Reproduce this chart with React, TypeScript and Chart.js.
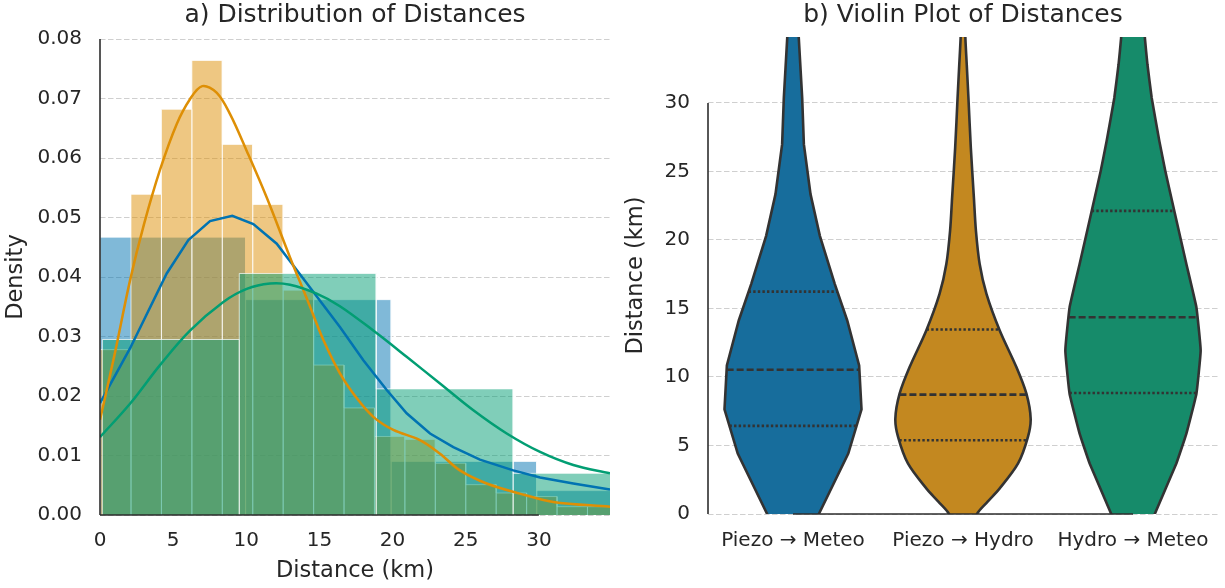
import React, { useEffect, useRef } from 'react';
import { Chart, registerables } from 'chart.js';

Chart.register(...registerables);

const FONT_FAMILY = "'DejaVu Sans', 'Liberation Sans', Arial, sans-serif";
const TEXT_COLOR = '#262626';
const GRID_COLOR = '#cfcfcf';
const SPINE_COLOR = '#2e2e2e';
const OUTLINE_COLOR = '#333333';

// ---- shared categories / colours ----
const categories = ['Piezo → Meteo', 'Piezo → Hydro', 'Hydro → Meteo'];
const lineColors = ['#0173b2', '#de8f05', '#029e73'];
const histFills = ['rgba(1,115,178,0.5)', 'rgba(222,143,5,0.5)', 'rgba(2,158,115,0.5)'];
const violinFills = ['#176d9c', '#c38820', '#168b6a'];

// ---- panel a: axes ----
const distanceTicks = [0, 5, 10, 15, 20, 25, 30];
const densityTicks = [0, 0.01, 0.02, 0.03, 0.04, 0.05, 0.06, 0.07, 0.08];
const distanceMax = 34.86;
const densityMax = 0.08;

// ---- panel a: histograms (bin edges in km, density) ----
const pmEdges = [0, 9.95, 19.9, 29.85, 39.8];
const pmDensity = [0.0467, 0.0362, 0.009, 0.0041];

const phEdges = [0.04, 2.12, 4.2, 6.28, 8.36, 10.44, 12.52, 14.6, 16.68, 18.76, 20.84, 22.92, 25.0, 27.08, 29.16, 31.24, 33.32, 35.4];
const phDensity = [0.0278, 0.0539, 0.0682, 0.0764, 0.0623, 0.0522, 0.0378, 0.0252, 0.018, 0.0132, 0.0127, 0.0087, 0.0051, 0.0037, 0.0031, 0.0014, 0.0014];

const hmEdges = [0.16, 9.52, 18.88, 28.24, 37.6];
const hmDensity = [0.0295, 0.0406, 0.0212, 0.007];

// ---- panel a: KDE curves ----
const pmKdeX = [0, 2.05, 4.56, 6.04, 7.52, 9.04, 10.48, 12.08, 13.9, 16.4, 18.0, 19.6, 20.96, 22.56, 24.15, 25.97, 28.25, 30.08, 32.35, 34.86];
const pmKdeY = [0.0188, 0.028, 0.0406, 0.0462, 0.0494, 0.0503, 0.0489, 0.0456, 0.0397, 0.0316, 0.026, 0.021, 0.0171, 0.0137, 0.0114, 0.0093, 0.0075, 0.0063, 0.0053, 0.0043];

const phKdeX = [0, 1.0, 2.05, 3.0, 4.1, 5.24, 6.15, 6.99, 7.97, 8.89, 10.03, 11.39, 12.99, 14.2, 15.27, 16.4, 17.5, 18.68, 20.05, 21.87, 23.24, 24.6, 26.43, 28.7, 30.98, 34.86];
const phKdeY = [0.016, 0.027, 0.0394, 0.0488, 0.058, 0.0657, 0.0699, 0.0721, 0.071, 0.0674, 0.0612, 0.0534, 0.0433, 0.036, 0.0294, 0.0238, 0.0198, 0.0165, 0.0143, 0.0126, 0.0103, 0.0075, 0.0053, 0.0036, 0.0022, 0.0014];

const hmKdeX = [0, 2.05, 4.1, 6.15, 8.43, 10.03, 11.62, 12.99, 14.81, 16.4, 18.68, 20.96, 23.24, 25.52, 27.8, 30.08, 32.35, 34.86];
const hmKdeY = [0.0131, 0.0187, 0.0252, 0.031, 0.0358, 0.038, 0.0389, 0.0387, 0.0372, 0.0351, 0.031, 0.0266, 0.0221, 0.0176, 0.0137, 0.0106, 0.0084, 0.007];

// ---- panel b: axes ----
const violinTicks = [0, 5, 10, 15, 20, 25, 30];
const violinMax = 34.8;
const categoryTicks = [0, 1, 2];

// ---- panel b: violin profiles (distance, half width in category units) ----
const pmViolinY = [-1.5, 0, 4.41, 7.64, 10.84, 14.12, 16.78, 20.3, 23.34, 26.97, 30.36, 34.73, 37.5];
const pmViolinHalf = [0.093, 0.152, 0.325, 0.403, 0.389, 0.319, 0.246, 0.158, 0.103, 0.064, 0.054, 0.034, 0.025];

const phViolinY = [-1.5, 0, 0.9, 1.87, 3.69, 5.63, 6.96, 8.78, 10.72, 13.39, 16.06, 18.24, 20.67, 23.09, 26.73, 30.36, 32.8, 34.73, 37.5];
const phViolinHalf = [0.04, 0.082, 0.145, 0.216, 0.324, 0.382, 0.398, 0.373, 0.314, 0.216, 0.138, 0.098, 0.076, 0.064, 0.046, 0.032, 0.022, 0.014, 0.008];

const hmViolinY = [-1.5, 0, 3.69, 5.87, 8.78, 11.93, 15.08, 18.24, 22.0, 25.03, 27.21, 30.36, 32.8, 34.73, 37.5];
const hmViolinHalf = [0.09, 0.128, 0.255, 0.314, 0.373, 0.398, 0.373, 0.314, 0.245, 0.19, 0.155, 0.11, 0.085, 0.07, 0.06];

// quartiles: q1, median, q3
const pmQuartiles = [6.43, 10.53, 16.23];
const phQuartiles = [5.38, 8.71, 13.46];
const hmQuartiles = [8.83, 14.36, 22.12];

// ---------- helpers ----------
type Pt = { x: number; y: number };

function histOutline(edges: number[], heights: number[]): Pt[] {
  const pts: Pt[] = [];
  heights.forEach((h, i) => {
    pts.push({ x: edges[i], y: 0 }, { x: edges[i], y: h }, { x: edges[i + 1], y: h });
  });
  pts.push({ x: edges[edges.length - 1], y: 0 });
  return pts;
}

function zipPts(xs: number[], ys: number[]): Pt[] {
  return xs.map((x, i) => ({ x, y: ys[i] }));
}

function violinOutline(center: number, ys: number[], halfs: number[]): Pt[] {
  const left = ys.map((y, i) => ({ x: center - halfs[i], y }));
  const right = ys.map((y, i) => ({ x: center + halfs[i], y })).reverse();
  return [...left, ...right, left[0]];
}

function halfAt(ys: number[], halfs: number[], y: number): number {
  for (let i = 1; i < ys.length; i++) {
    if (y <= ys[i]) {
      const t = (y - ys[i - 1]) / (ys[i] - ys[i - 1]);
      return halfs[i - 1] + t * (halfs[i] - halfs[i - 1]);
    }
  }
  return halfs[halfs.length - 1];
}

const fixedTicks = (values: number[]) => (axis: any) => {
  axis.ticks = values.map((value) => ({ value }));
};

function spinesPlugin(spec: { xFrom: number; xTo: number; yFrom: number; yTo: number }) {
  return {
    id: 'trimmedSpines',
    afterDatasetsDraw(chart: any) {
      const { ctx, chartArea, scales } = chart;
      ctx.save();
      ctx.strokeStyle = SPINE_COLOR;
      ctx.lineWidth = 1.6;
      ctx.beginPath();
      ctx.moveTo(chartArea.left, scales.y.getPixelForValue(spec.yFrom));
      ctx.lineTo(chartArea.left, scales.y.getPixelForValue(spec.yTo));
      ctx.moveTo(scales.x.getPixelForValue(spec.xFrom), chartArea.bottom);
      ctx.lineTo(scales.x.getPixelForValue(spec.xTo), chartArea.bottom);
      ctx.stroke();
      ctx.restore();
    },
  };
}

const tickFont = { family: FONT_FAMILY, size: 20 };
const labelFont = { family: FONT_FAMILY, size: 22.5 };
const titleFont = { family: FONT_FAMILY, size: 25, weight: 'normal' as const, lineHeight: 1.1 };

function kdeDataset(xs: number[], ys: number[], color: string, order: number, smooth: boolean) {
  return {
    data: zipPts(xs, ys),
    borderColor: color,
    borderWidth: 2.5,
    pointRadius: 0,
    fill: false,
    tension: smooth ? 0.35 : 0,
    order,
  };
}

function histDataset(edges: number[], heights: number[], fill: string, order: number) {
  return {
    data: histOutline(edges, heights),
    borderColor: 'rgba(255,255,255,0.7)',
    borderWidth: 1,
    backgroundColor: fill,
    pointRadius: 0,
    fill: 'origin',
    tension: 0,
    order,
  };
}

function violinDatasets(center: number, ys: number[], halfs: number[], quart: number[], color: string, tension: number) {
  const shape = {
    data: violinOutline(center, ys, halfs),
    backgroundColor: color,
    borderColor: OUTLINE_COLOR,
    borderWidth: 2.6,
    pointRadius: 0,
    fill: 'shape',
    tension,
    capBezierPoints: false,
    clip: 0,
    order: 1,
  };
  const lines = quart.map((q, i) => {
    const w = halfAt(ys, halfs, q);
    return {
      data: [{ x: center - w, y: q }, { x: center + w, y: q }],
      borderColor: OUTLINE_COLOR,
      borderWidth: 2.6,
      borderDash: i === 1 ? [7, 3] : [2.4, 2.2],
      pointRadius: 0,
      fill: false,
      tension: 0,
      order: 0,
    };
  });
  return [shape, ...lines];
}

export default function App() {
  const leftRef = useRef<HTMLCanvasElement | null>(null);
  const rightRef = useRef<HTMLCanvasElement | null>(null);

  useEffect(() => {
    Chart.defaults.font.family = FONT_FAMILY;
    Chart.defaults.color = TEXT_COLOR;

    const left = new Chart(leftRef.current as HTMLCanvasElement, {
      type: 'line',
      data: {
        datasets: [
          kdeDataset(hmKdeX, hmKdeY, lineColors[2], 0, true),
          kdeDataset(phKdeX, phKdeY, lineColors[1], 0.1, true),
          kdeDataset(pmKdeX, pmKdeY, lineColors[0], 0.2, false),
          histDataset(hmEdges, hmDensity, histFills[2], 1),
          histDataset(phEdges, phDensity, histFills[1], 2),
          histDataset(pmEdges, pmDensity, histFills[0], 3),
        ] as any,
      },
      options: {
        animation: false,
        responsive: false,
        maintainAspectRatio: false,
        layout: { padding: { left: 0, right: 2, top: 0, bottom: 0 } },
        plugins: {
          legend: { display: false },
          tooltip: { enabled: false },
          title: {
            display: true,
            text: 'a) Distribution of Distances',
            fullSize: false,
            font: titleFont,
            color: TEXT_COLOR,
            padding: { top: 1.5, bottom: 10.1 },
          },
        },
        scales: {
          x: {
            type: 'linear',
            min: 0,
            max: distanceMax,
            afterBuildTicks: fixedTicks(distanceTicks),
            afterFit: (s: any) => { s.height = 73; },
            grid: { display: false, drawTicks: false },
            border: { display: false },
            ticks: { padding: 14, font: tickFont, color: TEXT_COLOR, maxRotation: 0, autoSkip: false },
            title: { display: true, text: 'Distance (km)', font: labelFont, color: TEXT_COLOR, padding: { top: 0, bottom: 3.2 } },
          },
          y: {
            type: 'linear',
            min: 0,
            max: densityMax,
            afterBuildTicks: fixedTicks(densityTicks),
            afterFit: (s: any) => { s.width = 100; },
            grid: { color: GRID_COLOR, lineWidth: 1, drawTicks: false },
            border: { display: false, dash: [5.5, 2.5] },
            ticks: { padding: 18, font: tickFont, color: TEXT_COLOR, autoSkip: false, callback: (v: any) => Number(v).toFixed(2) },
            title: { display: true, text: 'Density', font: labelFont, color: TEXT_COLOR, padding: { top: 2.4, bottom: 0 } },
          },
        },
      } as any,
      plugins: [spinesPlugin({ xFrom: distanceTicks[0], xTo: distanceTicks[distanceTicks.length - 1], yFrom: densityTicks[0], yTo: densityTicks[densityTicks.length - 1] })],
    });

    const right = new Chart(rightRef.current as HTMLCanvasElement, {
      type: 'line',
      data: {
        datasets: [
          ...violinDatasets(categoryTicks[0], pmViolinY, pmViolinHalf, pmQuartiles, violinFills[0], 0),
          ...violinDatasets(categoryTicks[1], phViolinY, phViolinHalf, phQuartiles, violinFills[1], 0.3),
          ...violinDatasets(categoryTicks[2], hmViolinY, hmViolinHalf, hmQuartiles, violinFills[2], 0.1),
        ] as any,
      },
      options: {
        animation: false,
        responsive: false,
        maintainAspectRatio: false,
        layout: { padding: { left: 0, right: 7, top: 0, bottom: 0 } },
        plugins: {
          legend: { display: false },
          tooltip: { enabled: false },
          title: {
            display: true,
            text: 'b) Violin Plot of Distances',
            fullSize: false,
            font: titleFont,
            color: TEXT_COLOR,
            padding: { top: 1.5, bottom: 8.1 },
          },
        },
        scales: {
          x: {
            type: 'linear',
            min: -0.5,
            max: 2.5,
            afterBuildTicks: fixedTicks(categoryTicks),
            afterFit: (s: any) => { s.height = 74; },
            grid: { display: false, drawTicks: false },
            border: { display: false },
            ticks: { padding: 15, font: tickFont, color: TEXT_COLOR, maxRotation: 0, autoSkip: false, callback: (v: any) => categories[Math.round(Number(v))] ?? '' },
          },
          y: {
            type: 'linear',
            min: 0,
            max: violinMax,
            afterBuildTicks: fixedTicks(violinTicks),
            afterFit: (s: any) => { s.width = 96; },
            grid: { color: GRID_COLOR, lineWidth: 1, drawTicks: false },
            border: { display: false, dash: [5.5, 2.5] },
            ticks: { padding: 18, font: tickFont, color: TEXT_COLOR, autoSkip: false },
            title: { display: true, text: 'Distance (km)', font: labelFont, color: TEXT_COLOR, padding: { top: 10.5, bottom: 0 } },
          },
        },
      } as any,
      plugins: [spinesPlugin({ xFrom: categoryTicks[0], xTo: categoryTicks[categoryTicks.length - 1], yFrom: violinTicks[0], yTo: violinTicks[violinTicks.length - 1] })],
    });

    return () => {
      left.destroy();
      right.destroy();
    };
  }, []);

  return (
    <div style={{ position: 'fixed', left: 0, top: 0, width: 1225, height: 588, background: '#ffffff' }}>
      <canvas ref={leftRef} width={612} height={588} style={{ position: 'absolute', left: 0, top: 0, width: 612, height: 588 }} />
      <canvas ref={rightRef} width={613} height={588} style={{ position: 'absolute', left: 612, top: 0, width: 613, height: 588 }} />
    </div>
  );
}
